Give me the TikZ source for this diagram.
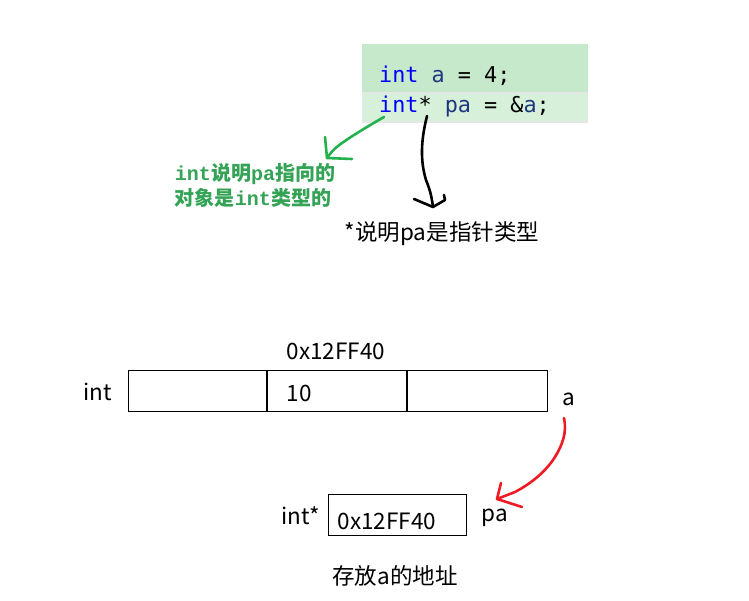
\documentclass[tikz,border=0pt]{standalone}
\usepackage{fontspec}
\setmainfont{Noto Sans CJK SC}
\newfontfamily\codefont{DejaVu Sans Mono}
\newfontfamily\notemono{Liberation Mono}
\usetikzlibrary{positioning}
\definecolor{codetop}{RGB}{199,233,203}
\definecolor{codelow}{RGB}{214,240,217}
\definecolor{codesep}{RGB}{228,232,229}
\definecolor{kwblue}{RGB}{0,0,255}
\definecolor{varblue}{RGB}{31,55,127}
\definecolor{pengreen}{RGB}{34,177,76}
\definecolor{notegreen}{RGB}{52,163,86}
\definecolor{penred}{RGB}{237,28,36}
\begin{document}
\begin{tikzpicture}[x=1pt,y=-1pt,
  every node/.style={inner sep=0pt},
  code/.style={anchor=base west,font=\codefont\fontsize{21.8}{24}\selectfont},
  lbl/.style={font=\fontsize{22.5}{25}\selectfont},
  note/.style={align=left,text=notegreen,font=\bfseries\fontsize{20}{25}\selectfont},
  cell/.style={draw,line width=1pt,minimum height=41pt,inner sep=0pt},
  pen/.style={line width=2.6pt,line cap=round,line join=round}]
\useasboundingbox (0,0) rectangle (749,601);
% code block
\fill[codetop] (362,44) rectangle (588,92);
\fill[codesep] (362,92) rectangle (588,94);
\fill[codelow] (362,94) rectangle (588,121);
\fill[codesep] (362,121) rectangle (588,123);
\node[code] (l1) at (379,83) {\textcolor{kwblue}{int} \textcolor{varblue}{a} = 4;};
\node[code] (l2) at (379,113) {\textcolor{kwblue}{int}* \textcolor{varblue}{pa} = \&\textcolor{varblue}{a};};
% notes
\node[note] (n1) at (255,185) {{\notemono\bfseries int}说明{\notemono\bfseries pa}指向的\\对象是{\notemono\bfseries int}类型的};
\node[lbl] (n2) at (442,234) {*说明pa是指针类型};
\coordinate (g0) at (384,117);
\coordinate (g1) at (327,158);
\coordinate (k0) at (427,116);
\coordinate (k1) at (433,207);
\draw[pen,pengreen] (g0) .. controls (365,128) and (352,136) .. (345,141) .. controls (337,146) and (331,152) .. (g1);
\draw[pen,pengreen] (325,137) -- (g1) -- (352,159);
\draw[pen,black] (k0) .. controls (421,140) and (420,160) .. (426,180) .. controls (431,192) and (432,200) .. (k1);
\draw[pen,black] (414,199) -- (k1) -- (445,200) -- (444,195);
% memory row
\node[lbl] (addr) at (336,351) {0x12FF40};
\node[cell,minimum width=138pt] (c1) at (197,390.5) {};
\node[cell,minimum width=139pt,right=0pt of c1] (c2) {};
\node[cell,minimum width=140pt,right=0pt of c2] (c3) {};
\node[lbl] (tint) at (98,392) {int};
\node[lbl] (val) at (299,393) {10};
\node[lbl] (va) at (569,399) {a};
% pointer
\node[cell,minimum width=138pt] (pb) at (397,514.5) {};
\node[lbl] (tptr) at (301,516) {int*};
\node[lbl] (pval) at (387,521) {0x12FF40};
\node[lbl] (vpa) at (495,518) {pa};
\node[lbl] (cap) at (395,576) {存放a的地址};
\coordinate (r0) at (564,418);
\coordinate (r1) at (497,499);
\draw[pen,penred] (r0) .. controls (567,432) and (563,445) .. (553,460) .. controls (543,474) and (530,484) .. (515,492) -- (r1);
\draw[pen,penred] (501,483) -- (r1) -- (522,507);
\end{tikzpicture}
\end{document}
